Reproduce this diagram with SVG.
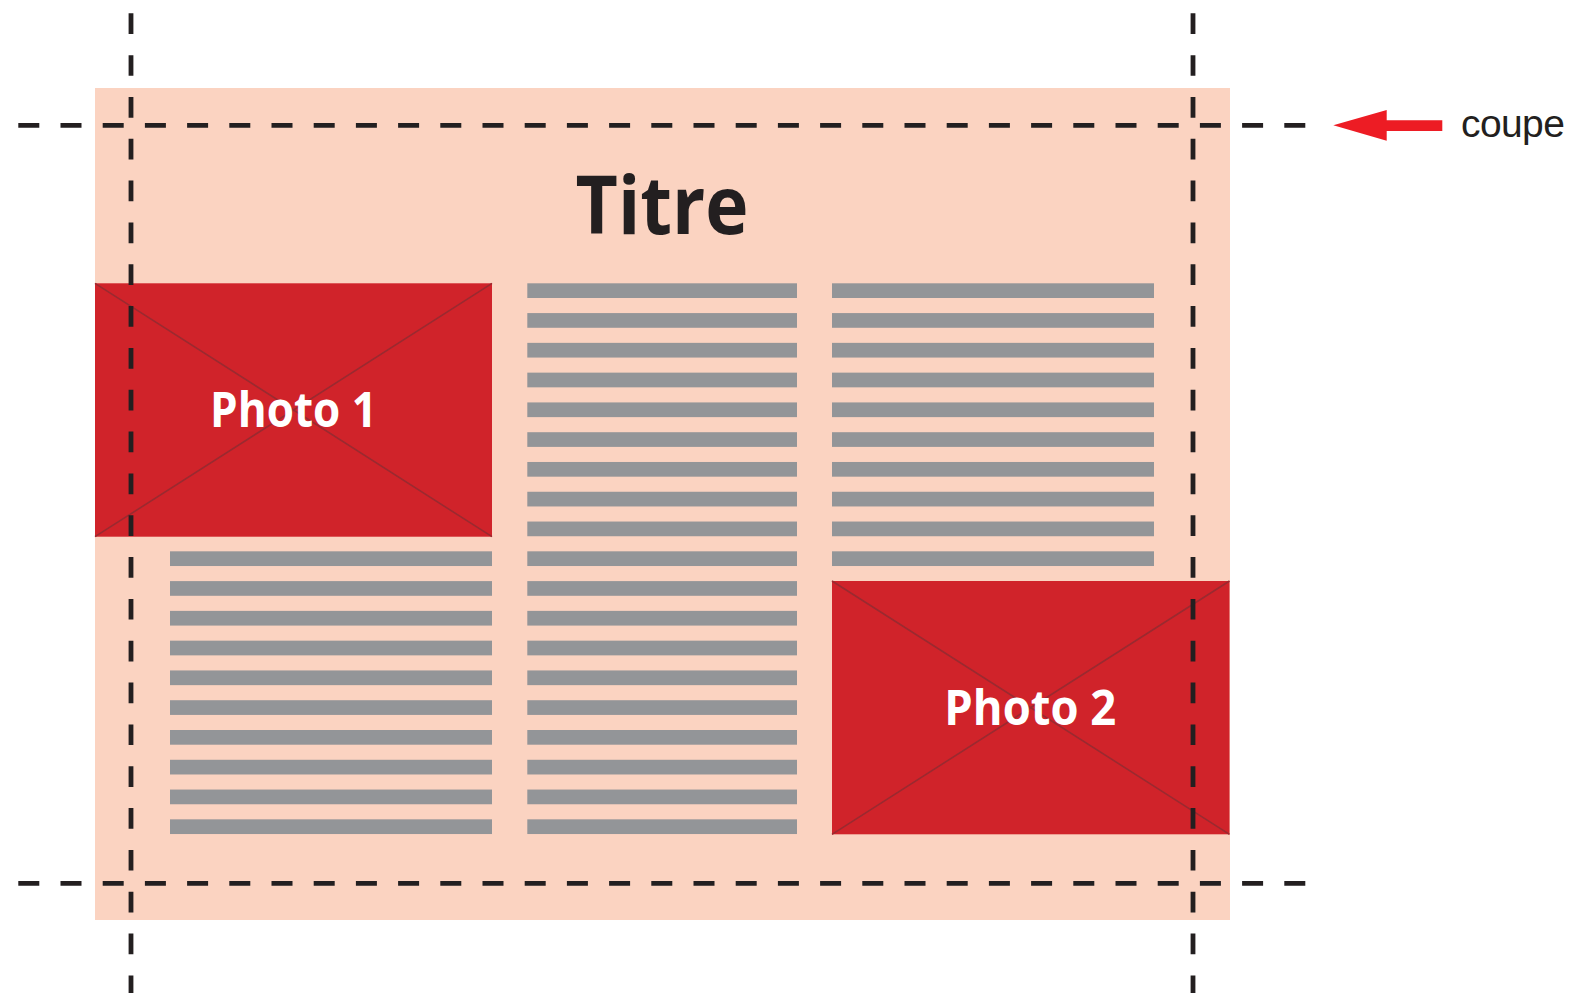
<svg xmlns="http://www.w3.org/2000/svg" width="1572" height="993" viewBox="0 0 1572 993">
  <style>
    .page { fill: #FBD3C1; }
    .photo { fill: #D0232A; }
    .diag { stroke: #9A2A30; stroke-width: 1.6; fill: none; }
    .bar { fill: #939598; }
    .cut { stroke: #231F20; stroke-width: 4.8; fill: none; }
    .cuth { stroke-dasharray: 21 21.2; }
    .cutv { stroke-dasharray: 20.7 21.13; }
    .title { font-family: "Open Sans", "DejaVu Sans", sans-serif; font-weight: 700; fill: #231F20; }
    .ph { font-family: "Open Sans", "DejaVu Sans", sans-serif; font-weight: 700; fill: #FFFFFF; }
    .lbl { font-family: "Liberation Sans", Arial, sans-serif; fill: #231F20; }
  </style>
  <defs>
    <rect id="bar1" width="322" height="14.7" class="bar"/>
    <rect id="bar2" width="269.7" height="14.7" class="bar"/>
  </defs>

  <g id="page">
    <rect class="page" x="95" y="88" width="1135" height="832"/>
  </g>

  <g id="title">
    <text class="title" x="662" y="233.5" font-size="81" text-anchor="middle" textLength="173" lengthAdjust="spacingAndGlyphs">Titre</text>
  </g>

  <g id="column1">
    <use href="#bar1" x="170" y="551.32"/>
    <use href="#bar1" x="170" y="581.1"/>
    <use href="#bar1" x="170" y="610.88"/>
    <use href="#bar1" x="170" y="640.66"/>
    <use href="#bar1" x="170" y="670.44"/>
    <use href="#bar1" x="170" y="700.22"/>
    <use href="#bar1" x="170" y="730"/>
    <use href="#bar1" x="170" y="759.78"/>
    <use href="#bar1" x="170" y="789.56"/>
    <use href="#bar1" x="170" y="819.34"/>
  </g>

  <g id="column2">
    <use href="#bar2" x="527.3" y="283.3"/>
    <use href="#bar2" x="527.3" y="313.08"/>
    <use href="#bar2" x="527.3" y="342.86"/>
    <use href="#bar2" x="527.3" y="372.64"/>
    <use href="#bar2" x="527.3" y="402.42"/>
    <use href="#bar2" x="527.3" y="432.2"/>
    <use href="#bar2" x="527.3" y="461.98"/>
    <use href="#bar2" x="527.3" y="491.76"/>
    <use href="#bar2" x="527.3" y="521.54"/>
    <use href="#bar2" x="527.3" y="551.32"/>
    <use href="#bar2" x="527.3" y="581.1"/>
    <use href="#bar2" x="527.3" y="610.88"/>
    <use href="#bar2" x="527.3" y="640.66"/>
    <use href="#bar2" x="527.3" y="670.44"/>
    <use href="#bar2" x="527.3" y="700.22"/>
    <use href="#bar2" x="527.3" y="730"/>
    <use href="#bar2" x="527.3" y="759.78"/>
    <use href="#bar2" x="527.3" y="789.56"/>
    <use href="#bar2" x="527.3" y="819.34"/>
  </g>

  <g id="column3">
    <use href="#bar1" x="832" y="283.3"/>
    <use href="#bar1" x="832" y="313.08"/>
    <use href="#bar1" x="832" y="342.86"/>
    <use href="#bar1" x="832" y="372.64"/>
    <use href="#bar1" x="832" y="402.42"/>
    <use href="#bar1" x="832" y="432.2"/>
    <use href="#bar1" x="832" y="461.98"/>
    <use href="#bar1" x="832" y="491.76"/>
    <use href="#bar1" x="832" y="521.54"/>
    <use href="#bar1" x="832" y="551.32"/>
  </g>

  <g id="photo1">
    <rect class="photo" x="95" y="283.3" width="397" height="253.4"/>
    <path class="diag" d="M95 283.3 L492 536.7 M492 283.3 L95 536.7"/>
    <text class="ph" x="293.5" y="427.3" font-size="48.5" text-anchor="middle" textLength="167" lengthAdjust="spacingAndGlyphs">Photo 1</text>
  </g>

  <g id="photo2">
    <rect class="photo" x="832" y="581" width="397.5" height="253.3"/>
    <path class="diag" d="M832 581 L1229.5 834.3 M1229.5 581 L832 834.3"/>
    <text class="ph" x="1030.3" y="725" font-size="48.5" text-anchor="middle" textLength="172" lengthAdjust="spacingAndGlyphs">Photo 2</text>
  </g>

  <g id="cut-marks">
    <line class="cut cuth" x1="18.3" y1="125.3" x2="1306" y2="125.3"/>
    <line class="cut cuth" x1="18.3" y1="883.3" x2="1306" y2="883.3"/>
    <line class="cut cutv" x1="131" y1="13.3" x2="131" y2="993"/>
    <line class="cut cutv" x1="1193" y1="13.3" x2="1193" y2="993"/>
  </g>

  <g id="connectors">
    <path d="M1333.3 125.3 L1386.7 110 L1386.7 120.3 L1442.3 120.3 L1442.3 131 L1386.7 131 L1386.7 140.7 Z" fill="#ED1C24"/>
  </g>

  <g id="label-coupe">
    <text class="lbl" x="1461" y="137.3" font-size="39" letter-spacing="-0.6">coupe</text>
  </g>
</svg>
